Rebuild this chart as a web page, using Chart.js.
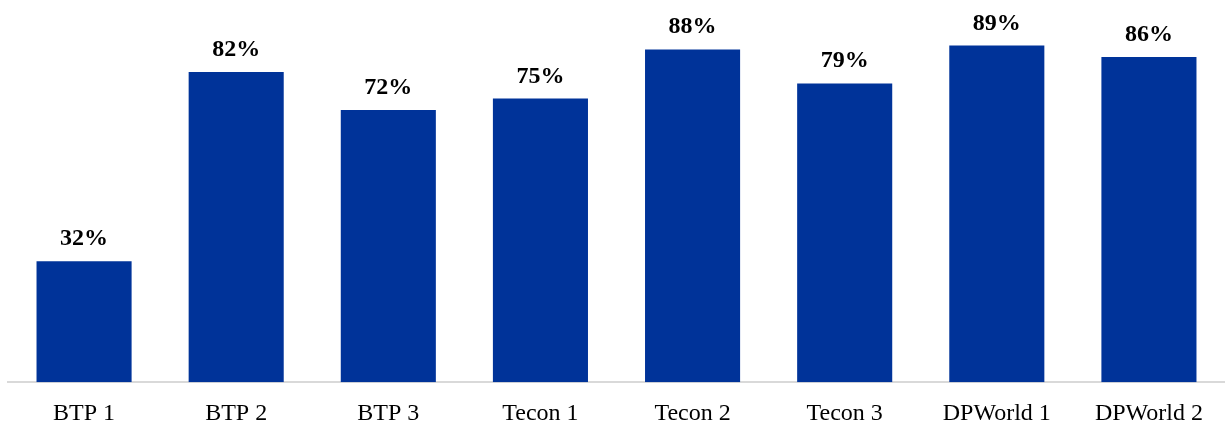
<!DOCTYPE html>
<html>
<head>
<meta charset="utf-8">
<script src="https://cdn.jsdelivr.net/npm/chart.js@4/dist/chart.umd.min.js"></script>
<style>
  html, body { margin: 0; padding: 0; background: #fff; overflow: hidden; }
  #wrap { width: 1225px; height: 424px; overflow: hidden; }
  #inner { width: 1225px; height: 445px; position: relative; }
</style>
</head>
<body>
<div id="wrap"><div id="inner"><canvas id="occupancyChart"></canvas></div></div>
<script>
// Terminal names and share values (percent)
const terminals = ['BTP 1', 'BTP 2', 'BTP 3', 'Tecon 1', 'Tecon 2', 'Tecon 3', 'DPWorld 1', 'DPWorld 2'];
const shares = [32, 82, 72, 75, 88, 79, 89, 86];

const serif = '"Times New Roman", "Liberation Serif", serif';

// draw the % labels above each bar
const valueLabels = {
  id: 'valueLabels',
  afterDatasetsDraw(chart) {
    const ctx = chart.ctx;
    const meta = chart.getDatasetMeta(0);
    ctx.save();
    ctx.font = 'bold 24px ' + serif;
    ctx.fillStyle = '#000';
    ctx.textAlign = 'center';
    ctx.textBaseline = 'alphabetic';
    meta.data.forEach((bar, i) => {
      ctx.fillText(shares[i] + '%', bar.x, bar.y - 16);
    });
    ctx.restore();
  }
};

var ctx = document.getElementById('occupancyChart').getContext('2d');
var occupancyChart = new Chart(ctx, {
  type: 'bar',
  data: {
    labels: terminals,
    datasets: [{
      data: shares,
      backgroundColor: '#003399',
      borderWidth: 0,
      categoryPercentage: 1,
      barPercentage: 0.625
    }]
  },
  options: {
    responsive: true,
    maintainAspectRatio: false,
    animation: false,
    layout: { padding: { left: 8, right: 0, top: 4, bottom: 0 } },
    plugins: { legend: { display: false }, tooltip: { enabled: false } },
    scales: {
      x: {
        grid: { display: false, drawTicks: false },
        border: { display: true, color: '#d9d9d9', width: 2 },
        ticks: {
          color: '#000',
          padding: 17,
          font: { family: serif, size: 24 }
        }
      },
      y: {
        display: false,
        min: 0,
        max: 100
      }
    }
  },
  plugins: [valueLabels]
});
</script>
</body>
</html>
